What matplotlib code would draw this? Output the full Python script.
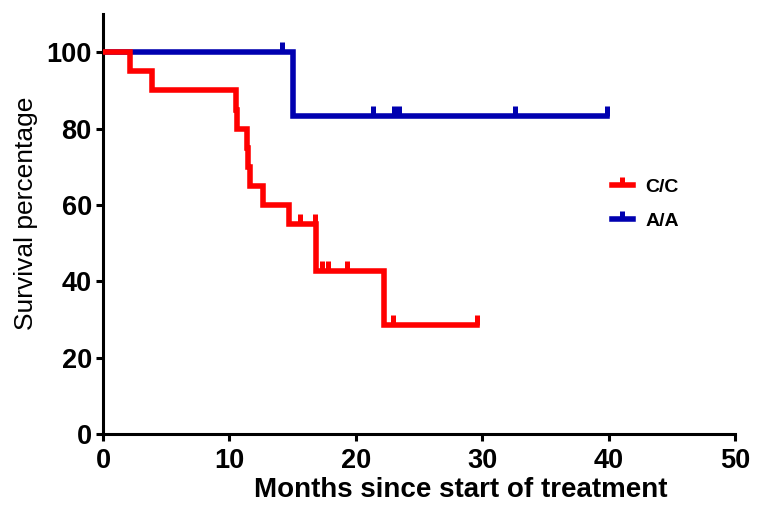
import numpy as np
import matplotlib
matplotlib.use("Agg")
import matplotlib.pyplot as plt
from matplotlib.path import Path

# Kaplan-Meier steps (months, survival %) and censored times
cc_times = [0, 2.1, 3.9, 10.5, 10.6, 11.4, 11.5, 11.6, 12.7, 14.7, 16.85, 22.2, 29.6]
cc_surv = [100, 95, 90, 85, 80, 75, 70, 65, 60, 55, 42.8, 28.5, 28.5]
cc_cens = [15.55, 16.8, 17.35, 17.8, 19.3, 22.95, 29.6]

aa_times = [0, 15.0, 39.9]
aa_surv = [100, 83.3, 83.3]
aa_cens = [14.15, 21.4, 23.0, 23.45, 32.6, 39.9]

x_ticks = [0, 10, 20, 30, 40, 50]
y_ticks = [0, 20, 40, 60, 80, 100]

RED = "#ff0000"
BLUE = "#0000b0"
SANS = ["Liberation Sans", "DejaVu Sans"]

# censor tick pointing up from the line
up_tick = Path([(0, 0), (0, 1)])


def step_value(times, surv, t):
    i = np.searchsorted(times, t, side="right") - 1
    return surv[max(i, 0)]


fig = plt.figure(figsize=(7.6, 5.21), dpi=100)
ax = fig.add_axes([0.1355, 0.167, 0.8315, 0.806])

# red sits on top of blue where they overlap at 100 %
for times, surv, cens, col, lab, z in [(cc_times, cc_surv, cc_cens, RED, "C/C", 3),
                                        (aa_times, aa_surv, aa_cens, BLUE, "A/A", 2)]:
    ax.step(times, surv, where="post", color=col, lw=4, solid_joinstyle="miter", zorder=z)
    cy = [step_value(times, surv, t) for t in cens]
    ax.plot(cens, cy, ls="none", marker=up_tick, ms=14, mew=3.6, color=col, zorder=z)
    # legend handle
    ax.plot([], [], color=col, lw=4, marker=up_tick, ms=12, mew=3.6, label=lab)

ax.set_xlim(0, 50)
ax.set_ylim(0, 110)
ax.set_xticks(x_ticks)
ax.set_yticks(y_ticks)
ax.spines["top"].set_visible(False)
ax.spines["right"].set_visible(False)
for s in ["left", "bottom"]:
    ax.spines[s].set_linewidth(2.2)
ax.tick_params(direction="out", length=5, width=2.2)
ax.tick_params(axis="x", pad=5)
ax.tick_params(axis="y", pad=3)
for lbl in ax.get_xticklabels() + ax.get_yticklabels():
    lbl.set_family(SANS)
    lbl.set_fontweight("bold")
    lbl.set_fontsize(19.5)

ax.set_xlabel("Months since start of treatment", family=SANS,
              fontweight="bold", fontsize=20, labelpad=2)
ax.set_ylabel("Survival percentage", family=SANS, fontsize=19, labelpad=6)
# labels sit off-centre in the original
ax.xaxis.label.set_x(0.566)
ax.yaxis.label.set_y(0.526)

leg = ax.legend(loc="center left", bbox_to_anchor=(0.805, 0.548), frameon=False,
                handlelength=1.1, handletextpad=0.65, labelspacing=0.85,
                borderpad=0, borderaxespad=0, numpoints=1,
                prop={"family": SANS, "weight": "bold", "size": 14})

fig.savefig("out.png", dpi=100)
